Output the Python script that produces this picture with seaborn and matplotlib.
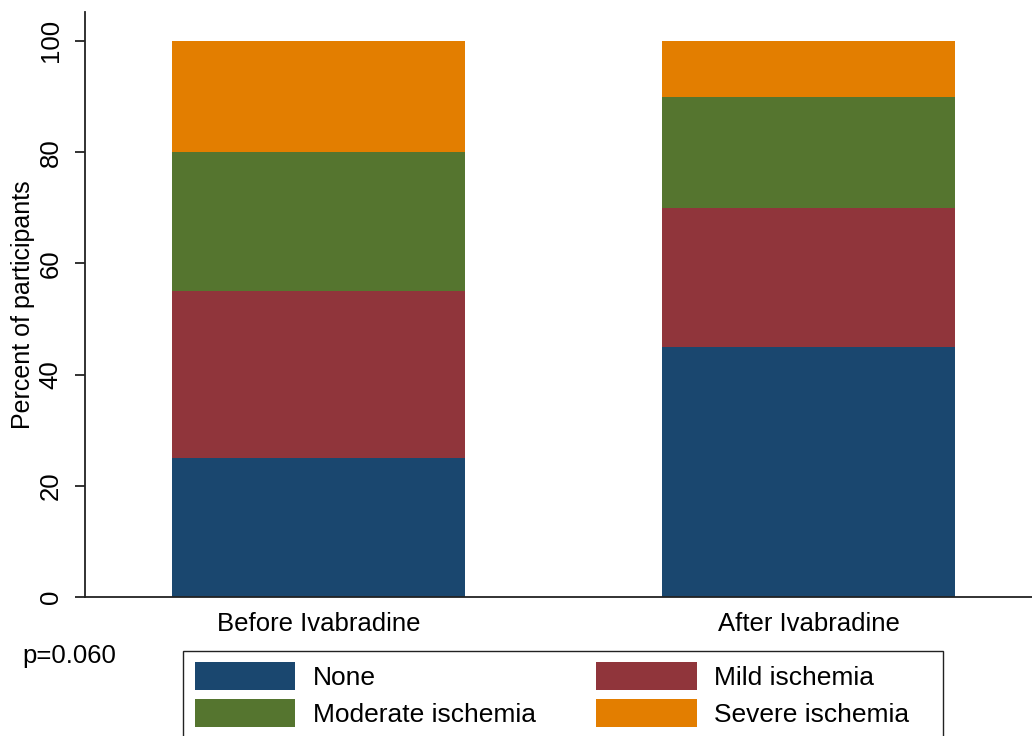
import numpy as np
import pandas as pd
import matplotlib
matplotlib.use("Agg")
import matplotlib.pyplot as plt
from matplotlib.patches import Patch, Rectangle
import seaborn as sns

# Data: percent of participants per ischemia grade
periods = ["Before Ivabradine", "After Ivabradine"]
grades = ["None", "Mild ischemia", "Moderate ischemia", "Severe ischemia"]
none_pct = [25, 45]
mild_pct = [30, 25]
moderate_pct = [25, 20]
severe_pct = [20, 10]
colors = ["#1a476f", "#90353b", "#55752f", "#e37e00"]
p_value_text = "p=0.060"

sns.set_style("white")
plt.rcParams["font.family"] = ["Liberation Sans", "DejaVu Sans"]
FS = 18.5
plt.rcParams["font.size"] = FS
plt.rcParams["text.color"] = "black"
plt.rcParams["axes.labelcolor"] = "black"
plt.rcParams["xtick.color"] = "black"
plt.rcParams["ytick.color"] = "black"

layers = np.array([none_pct, mild_pct, moderate_pct, severe_pct], dtype=float)
cum = np.cumsum(layers, axis=0)

W, H = 1032, 736
fig = plt.figure(figsize=(W / 100, H / 100), dpi=100)
ax = fig.add_axes([85 / W, 1 - 597 / H, 1 - 85 / W, (597 - 12) / H])

# Stacked bars: draw cumulative totals from the top layer down so each overlays the next
for i in range(len(grades) - 1, -1, -1):
    df = pd.DataFrame({"period": periods, "cum": cum[i]})
    sns.barplot(data=df, x="period", y="cum", order=periods, color=colors[i],
                saturation=1, width=0.598, errorbar=None, linewidth=0, ax=ax)

ax.set_xlim(-0.4765, 1.456)
ax.set_ylim(0, 105.2)
ax.set_yticks([0, 20, 40, 60, 80, 100])
ax.set_xlabel("")
ax.set_ylabel("Percent of participants", fontsize=18, labelpad=3)

for side in ["top", "right"]:
    ax.spines[side].set_visible(False)
for side in ["left", "bottom"]:
    ax.spines[side].set_color("#222222")
    ax.spines[side].set_linewidth(1.3)

ax.tick_params(axis="y", which="major", length=7, width=1.3, color="#222222",
               pad=9, labelsize=FS, left=True)
for lbl in ax.get_yticklabels():
    lbl.set_rotation(90)
    lbl.set_va("center")
ax.tick_params(axis="x", length=0, pad=11, labelsize=FS)

fig.text(22 / W, 1 - 656 / H, p_value_text, fontsize=FS, ha="left", va="center")

# Legend filled row by row: None, Mild / Moderate, Severe
order = [0, 2, 1, 3]
handles = [Patch(facecolor=colors[k], edgecolor="none") for k in order]
labels = [grades[k] for k in order]
leg = fig.legend(handles, labels, ncol=2, loc="upper left",
                 bbox_to_anchor=(195 / W, 1 - 662 / H), borderaxespad=0,
                 fontsize=19, handlelength=3.8, handleheight=1.25,
                 handletextpad=0.66, labelspacing=0.35, columnspacing=2.3,
                 borderpad=0, frameon=False)

# Legend frame
fig.patches.append(Rectangle((183 / W, -0.02), (943 - 183) / W, (H - 651) / H + 0.02,
                             transform=fig.transFigure, fill=False,
                             edgecolor="#222222", linewidth=1.0, zorder=0))

fig.savefig("out.png", dpi=100)
